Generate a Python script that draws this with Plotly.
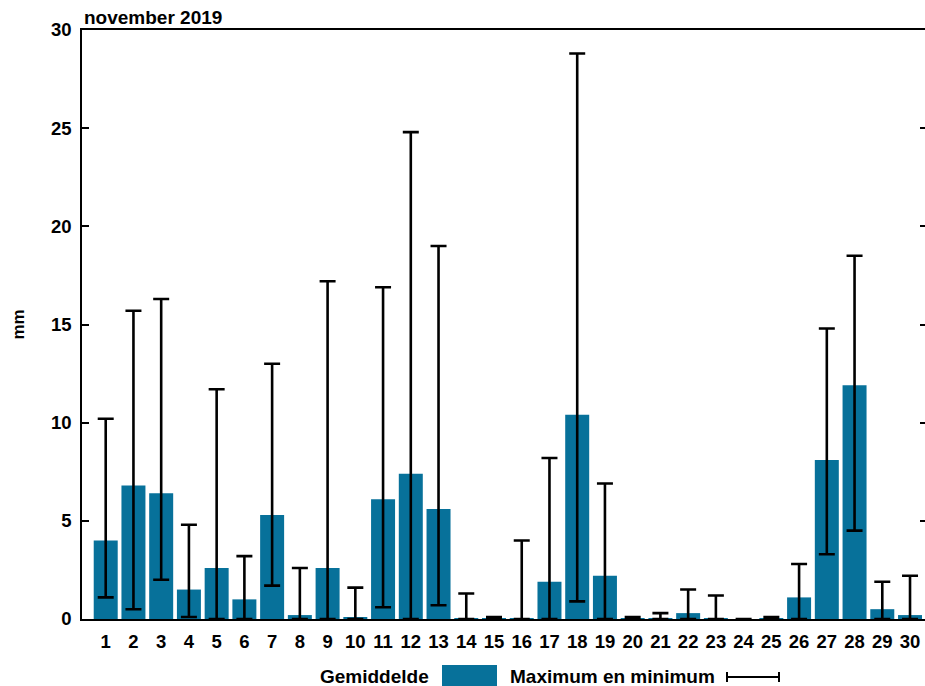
import plotly.graph_objects as go

days = list(range(1, 31))
mean_mm = [4.0, 6.8, 6.4, 1.5, 2.6, 1.0, 5.3, 0.2, 2.6, 0.1,
           6.1, 7.4, 5.6, 0.05, 0.05, 0.05, 1.9, 10.4, 2.2, 0.05,
           0.05, 0.3, 0.05, 0.0, 0.05, 1.1, 8.1, 11.9, 0.5, 0.2]
max_mm = [10.2, 15.7, 16.3, 4.8, 11.7, 3.2, 13.0, 2.6, 17.2, 1.6,
          16.9, 24.8, 19.0, 1.3, 0.1, 4.0, 8.2, 28.8, 6.9, 0.1,
          0.3, 1.5, 1.2, 0.0, 0.1, 2.8, 14.8, 18.5, 1.9, 2.2]
min_mm = [1.1, 0.5, 2.0, 0.1, 0.0, 0.0, 1.7, 0.0, 0.0, 0.0,
          0.6, 0.0, 0.7, 0.0, 0.0, 0.0, 0.0, 0.9, 0.0, 0.0,
          0.0, 0.0, 0.0, 0.0, 0.0, 0.0, 3.3, 4.5, 0.0, 0.0]
y_ticks = [0, 5, 10, 15, 20, 25, 30]

title_text = "november 2019"
y_title = "mm"
legend_mean = "Gemiddelde"
legend_range = "Maximum en minimum"

BAR = "#07719a"
FONT = "Liberation Sans, Arial, sans-serif"

# body margin is removed by post_script, so figure == page coordinates
W, H = 925, 686
L, R, T, B = 82, 0, 30, 686 - 619
pw, ph = W - L - R, H - T - B


def px(x):
    return (x - L) / pw


def py(y):
    return (H - B - y) / ph


up = [mx - m for mx, m in zip(max_mm, mean_mm)]
down = [m - mn for m, mn in zip(mean_mm, min_mm)]

fig = go.Figure()
fig.add_trace(go.Bar(
    x=days, y=mean_mm,
    marker=dict(color=BAR, line=dict(width=0)),
    error_y=dict(type="data", symmetric=False, array=up, arrayminus=down,
                 color="black", thickness=2.6, width=8),
    showlegend=False, hoverinfo="skip",
))
# invisible trace to carry right-hand ticks
fig.add_trace(go.Scatter(x=[days[0]], y=[0], yaxis="y2", mode="markers",
                         marker=dict(opacity=0), showlegend=False, hoverinfo="skip"))

tickfont = dict(family=FONT, size=18.5, color="black", weight="bold")

fig.update_layout(
    width=W, height=H,
    margin=dict(l=L, r=R, t=T, b=B, pad=0),
    paper_bgcolor="white", plot_bgcolor="white",
    bargap=0.135,
    font=dict(family=FONT, color="black"),
    xaxis=dict(range=[0.145, 30.54], tickmode="array", tickvals=days,
               ticktext=[str(d) for d in days], ticks="", showgrid=False,
               zeroline=False, showline=True, linecolor="black", linewidth=1.5,
               mirror=True, tickfont=tickfont, ticklabelstandoff=5),
    yaxis=dict(range=[0, 30], tickmode="array", tickvals=y_ticks,
               ticks="inside", ticklen=7, tickwidth=1.5, tickcolor="black",
               showgrid=False, zeroline=False, showline=True, linecolor="black",
               linewidth=1.5, tickfont=tickfont, ticklabelstandoff=5),
    yaxis2=dict(range=[0, 30], overlaying="y", side="right", tickmode="array",
                tickvals=y_ticks, ticks="inside", ticklen=5, tickwidth=1.5,
                tickcolor="black", showticklabels=False, showgrid=False,
                zeroline=False, showline=False),
    shapes=[
        dict(type="rect", xref="paper", yref="paper",
             x0=px(442), x1=px(497), y0=py(686), y1=py(665),
             fillcolor=BAR, line=dict(width=0)),
        dict(type="line", xref="paper", yref="paper",
             x0=px(727), x1=px(779), y0=py(677), y1=py(677),
             line=dict(color="black", width=2)),
        dict(type="line", xref="paper", yref="paper",
             x0=px(727), x1=px(727), y0=py(672), y1=py(682),
             line=dict(color="black", width=2)),
        dict(type="line", xref="paper", yref="paper",
             x0=px(779), x1=px(779), y0=py(672), y1=py(682),
             line=dict(color="black", width=2)),
    ],
    annotations=[
        dict(text=title_text, xref="paper", yref="paper", x=0, y=1,
             xanchor="left", yanchor="bottom", yshift=0, showarrow=False,
             font=dict(family=FONT, size=19, color="black", weight="bold")),
        dict(text=y_title, xref="paper", yref="paper", x=px(17.5), y=py(325),
             xanchor="center", yanchor="middle", textangle=-90, showarrow=False,
             font=dict(family=FONT, size=17, color="black", weight="bold")),
        dict(text=legend_mean, xref="paper", yref="paper", x=px(431), y=py(676),
             xanchor="right", yanchor="middle", showarrow=False,
             font=dict(family=FONT, size=19, color="black", weight="bold")),
        dict(text=legend_range, xref="paper", yref="paper", x=px(508), y=py(676),
             xanchor="left", yanchor="middle", showarrow=False,
             font=dict(family=FONT, size=19, color="black", weight="bold")),
    ],
)

fig.write_html(
    "out.html",
    config={"displayModeBar": False},
    post_script="document.body.style.margin='0';document.body.style.overflow='hidden';",
)
